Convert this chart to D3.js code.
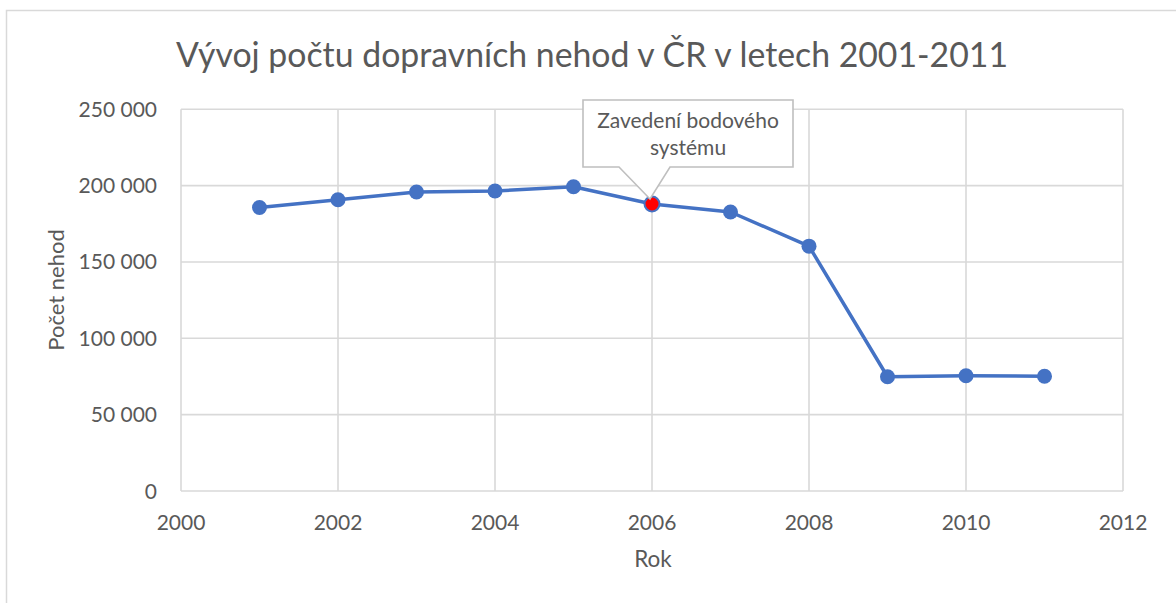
<!DOCTYPE html>
<html>
<head>
<meta charset="utf-8">
<script src="https://cdn.jsdelivr.net/npm/d3@7"></script>
<style>
  body { margin: 0; background: #fff; }
  text { font-family: Lato, "Open Sans", sans-serif; fill: #595959; }
</style>
</head>
<body>
<script>
// data
var years = [2001, 2002, 2003, 2004, 2005, 2006, 2007, 2008, 2009, 2010, 2011];
var accidents = [185664, 190718, 195851, 196484, 199262, 187965, 182736, 160376, 74815, 75522, 75137];
var xTicks = [2000, 2002, 2004, 2006, 2008, 2010, 2012];
var yTicks = [0, 50000, 100000, 150000, 200000, 250000];
var highlightYear = 2006;
var noteLines = ["Zavedení bodového", "systému"];

var width = 1176;
var height = 603;
var plotLeft = 181, plotRight = 1123, plotTop = 109.3, plotBottom = 491;

var svg = d3.select("body").append("svg")
  .attr("width", width)
  .attr("height", height);

// chart frame (only top and left edges visible)
svg.append("rect")
  .attr("x", 6.5).attr("y", 10.5)
  .attr("width", 1200).attr("height", 700)
  .attr("fill", "none")
  .attr("stroke", "#d9d9d9")
  .attr("stroke-width", 1.5);

var xScale = d3.scaleLinear().domain([2000, 2012]).range([plotLeft, plotRight]);
var yScale = d3.scaleLinear().domain([0, 250000]).range([plotBottom, plotTop]);

var fmt = function(d) { return d3.format(",")(d).replace(/,/g, " "); };

// gridlines
svg.append("g").selectAll("line")
  .data(yTicks).enter().append("line")
  .attr("x1", plotLeft).attr("x2", plotRight)
  .attr("y1", d => yScale(d)).attr("y2", d => yScale(d))
  .attr("stroke", "#d9d9d9").attr("stroke-width", 1.6);

svg.append("g").selectAll("line")
  .data(xTicks).enter().append("line")
  .attr("x1", d => xScale(d)).attr("x2", d => xScale(d))
  .attr("y1", plotTop).attr("y2", plotBottom)
  .attr("stroke", "#d9d9d9").attr("stroke-width", 1.6);

// y axis labels
svg.append("g").selectAll("text")
  .data(yTicks).enter().append("text")
  .attr("x", 157)
  .attr("y", d => yScale(d) + 7.5)
  .attr("text-anchor", "end")
  .style("font-size", "21px")
  .text(fmt);

// x axis labels
svg.append("g").selectAll("text")
  .data(xTicks).enter().append("text")
  .attr("x", d => xScale(d))
  .attr("y", 530)
  .attr("text-anchor", "middle")
  .style("font-size", "21px")
  .text(d => d);

// title
svg.append("text")
  .attr("x", 592)
  .attr("y", 67)
  .attr("text-anchor", "middle")
  .style("font-size", "33.8px")
  .text("Vývoj počtu dopravních nehod v ČR v letech 2001-2011");

// axis titles
svg.append("text")
  .attr("x", 653)
  .attr("y", 567)
  .attr("text-anchor", "middle")
  .style("font-size", "22.5px")
  .text("Rok");

svg.append("text")
  .attr("transform", "translate(64, 290) rotate(-90)")
  .attr("text-anchor", "middle")
  .style("font-size", "22px")
  .text("Počet nehod");

// line
var line = d3.line()
  .x((d, i) => xScale(years[i]))
  .y(d => yScale(d));

svg.append("path")
  .datum(accidents)
  .attr("d", line)
  .attr("fill", "none")
  .attr("stroke", "#4472C4")
  .attr("stroke-width", 3.5)
  .attr("stroke-linejoin", "round");

svg.append("g").selectAll("circle")
  .data(accidents).enter().append("circle")
  .attr("cx", (d, i) => xScale(years[i]))
  .attr("cy", d => yScale(d))
  .attr("r", 7.5)
  .attr("fill", (d, i) => years[i] == highlightYear ? "#ff0000" : "#4472C4")
  .attr("stroke", "#4472C4")
  .attr("stroke-width", (d, i) => years[i] == highlightYear ? 2 : 0);

// callout
var hi = years.indexOf(highlightYear);
var tipX = xScale(highlightYear) - 2;
var tipY = yScale(accidents[hi]) - 5;
var bx0 = 583, bx1 = 793, by0 = 100, by1 = 167;
svg.append("path")
  .attr("d", "M" + bx0 + "," + by0 + "H" + bx1 + "V" + by1 + "H670L" + tipX + "," + tipY + "L619," + by1 + "H" + bx0 + "Z")
  .attr("fill", "#fff")
  .attr("stroke", "#bfbfbf")
  .attr("stroke-width", 1.6);

svg.append("g").selectAll("text")
  .data(noteLines).enter().append("text")
  .attr("x", 688)
  .attr("y", (d, i) => 128 + i * 27)
  .attr("text-anchor", "middle")
  .style("font-size", "21px")
  .text(d => d);
</script>
</body>
</html>
